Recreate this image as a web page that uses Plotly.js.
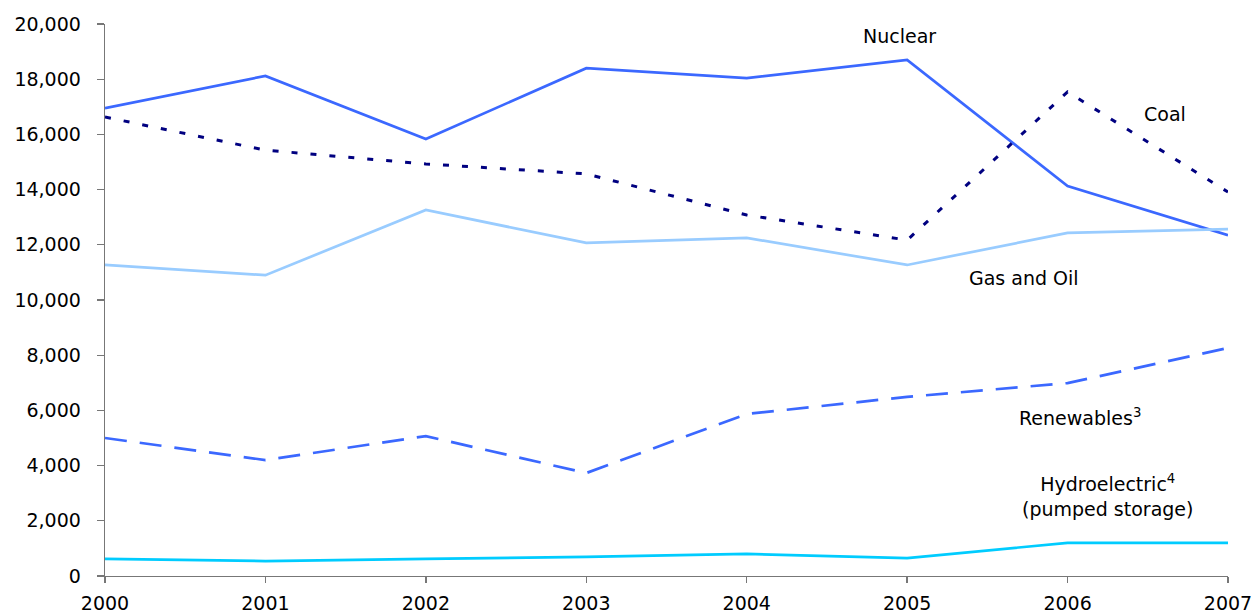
<!DOCTYPE html>
<html>
<head>
<meta charset="utf-8">
<script src="https://cdn.plot.ly/plotly-3.0.1.min.js"></script>
<style>html,body{margin:0;padding:0;background:#fff;}#chart{width:1257px;height:612px;}</style>
</head>
<body>
<div id="chart"></div>
<script>
const years = [2000, 2001, 2002, 2003, 2004, 2005, 2006, 2007];
const nuclear = [16950, 18120, 15830, 18400, 18040, 18700, 14130, 12350];
const coal = [16630, 15430, 14930, 14570, 13080, 12170, 17540, 13910];
const gasOil = [11270, 10900, 13260, 12070, 12250, 11270, 12430, 12570];
const renewables = [5000, 4200, 5070, 3730, 5870, 6490, 6990, 8260];
const hydro = [620, 540, 620, 690, 800, 650, 1200, 1200];
const tickYears = ['2000','2001','2002','2003','2004','2005','2006','2007'];

const traces = [
  {x: years, y: nuclear, name: 'Nuclear', mode: 'lines', line: {color: '#3b68ff', width: 2.7}},
  {x: years, y: coal, name: 'Coal', mode: 'lines', line: {color: '#000080', width: 3, dash: '6px,13px'}},
  {x: years, y: gasOil, name: 'Gas and Oil', mode: 'lines', line: {color: '#99ccff', width: 2.7}},
  {x: years, y: renewables, name: 'Renewables', mode: 'lines', line: {color: '#3b68ff', width: 2.7, dash: '22px,13px'}},
  {x: years, y: hydro, name: 'Hydroelectric', mode: 'lines', line: {color: '#00ccff', width: 2.7}}
];

const font = {family: 'DejaVu Sans, Liberation Sans, Arial, sans-serif', size: 19, color: '#000'};
const annFont = {family: 'DejaVu Sans, Liberation Sans, Arial, sans-serif', size: 19, color: '#000'};

const layout = {
  width: 1257, height: 612,
  margin: {l: 105, r: 29, t: 24, b: 36},
  showlegend: false,
  paper_bgcolor: '#fff', plot_bgcolor: '#fff',
  font: font,
  xaxis: {
    range: [2000, 2007], tickvals: years, ticktext: tickYears,
    showgrid: false, zeroline: false, showline: true, linecolor: '#777', linewidth: 1.3,
    ticks: 'outside', ticklen: 6, tickcolor: '#777', tickwidth: 1.3,
    ticklabelstandoff: 4, tickfont: font
  },
  yaxis: {
    range: [0, 20000], tickvals: [0,2000,4000,6000,8000,10000,12000,14000,16000,18000,20000],
    tickformat: ',d',
    showgrid: false, zeroline: false, showline: true, linecolor: '#777', linewidth: 1.3,
    ticks: 'outside', ticklen: 7, tickcolor: '#777', tickwidth: 1.3,
    ticklabelstandoff: 12, tickfont: font
  },
  annotations: [
    {x: 2004.95, y: 19565, text: 'Nuclear', showarrow: false, font: annFont},
    {x: 2006.61, y: 16740, text: 'Coal', showarrow: false, font: annFont},
    {x: 2005.73, y: 10800, text: 'Gas and Oil', showarrow: false, font: annFont},
    {x: 2006.08, y: 5750, text: 'Renewables<sup>3</sup>', showarrow: false, font: annFont},
    {x: 2006.25, y: 2930, text: 'Hydroelectric<sup>4</sup><br>(pumped storage)', showarrow: false, font: annFont}
  ]
};

Plotly.newPlot('chart', traces, layout, {displayModeBar: false, staticPlot: true});
</script>
</body>
</html>
